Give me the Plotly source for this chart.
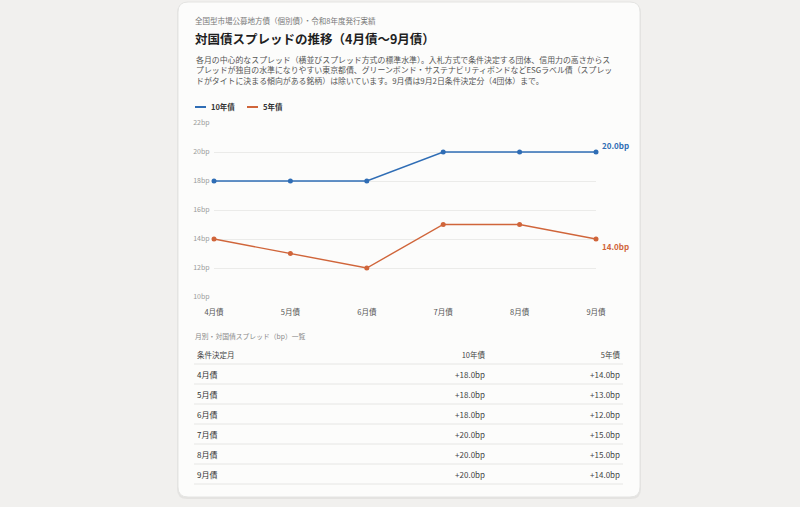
import plotly.graph_objects as go

# data
months = ["4月債", "5月債", "6月債", "7月債", "8月債", "9月債"]
spread_10y = [18, 18, 18, 20, 20, 20]
spread_5y = [14, 13, 12, 15, 15, 14]
series_names = ["10年債", "5年債"]
colors = ["#2f6db5", "#d0653a"]
y_ticks = [10, 12, 14, 16, 18, 20, 22]

W, H = 800, 507
FONT = "Noto Sans CJK JP"


def px(x):
    return x / W


def py(y):
    return 1 - y / H


def rounded_rect(x0, y0, x1, y1, r):
    a0, a1 = px(x0), px(x1)
    b0, b1 = py(y0), py(y1)
    rx, ry = r / W, r / H
    return (f"M{a0 + rx},{b0} L{a1 - rx},{b0} Q{a1},{b0} {a1},{b0 - ry} "
            f"L{a1},{b1 + ry} Q{a1},{b1} {a1 - rx},{b1} L{a0 + rx},{b1} "
            f"Q{a0},{b1} {a0},{b1 + ry} L{a0},{b0 - ry} Q{a0},{b0} {a0 + rx},{b0} Z")


fig = go.Figure()

for name, vals, col in zip(series_names, [spread_10y, spread_5y], colors):
    fig.add_trace(go.Scatter(
        x=months, y=vals, name=name, mode="lines+markers",
        line=dict(color=col, width=1.4),
        marker=dict(size=5, color=col),
        cliponaxis=False, showlegend=False,
    ))

# table below the chart
fmt = lambda v: f"+{v:.1f}bp"
fig.add_trace(go.Table(
    domain=dict(x=[px(189), px(628)], y=[py(486), py(344)]),
    columnwidth=[169, 135, 135],
    header=dict(
        values=["条件決定月", series_names[0], series_names[1]],
        align=["left", "right", "right"],
        font=dict(family=FONT, size=7.5, color="#444"),
        fill_color="rgba(0,0,0,0)",
        line_color="rgba(0,0,0,0)",
        height=20,
    ),
    cells=dict(
        values=[months, [fmt(v) for v in spread_10y], [fmt(v) for v in spread_5y]],
        align=["left", "right", "right"],
        font=dict(family=FONT, size=8, color=["#333", "#444", "#444"]),
        fill_color="rgba(0,0,0,0)",
        line_color="rgba(0,0,0,0)",
        height=20,
    ),
))

shapes = [
    # card shadow + card
    dict(type="path", path=rounded_rect(177, 3, 641, 499, 10), xref="paper", yref="paper",
         fillcolor="rgba(0,0,0,0.05)", line=dict(width=0), layer="below"),
    dict(type="path", path=rounded_rect(178, 2, 640, 497, 10), xref="paper", yref="paper",
         fillcolor="#fcfcfb", line=dict(color="#e4e4e2", width=1), layer="below"),
]
# table row separators
for i in range(len(months) + 1):
    yy = 364 + 20 * i
    shapes.append(dict(type="line", xref="paper", yref="paper",
                       x0=px(194), x1=px(623), y0=py(yy), y1=py(yy),
                       line=dict(color="#e6e6e4", width=1), layer="below"))
# legend swatches
for i, col in enumerate(colors):
    x0 = 195 + 52 * i
    shapes.append(dict(type="line", xref="paper", yref="paper",
                       x0=px(x0), x1=px(x0 + 11), y0=py(107), y1=py(107),
                       line=dict(color=col, width=2)))

annotations = [
    dict(text="全国型市場公募地方債（個別債）・令和8年度発行実績", x=px(193), y=py(21),
         font=dict(size=7.5, color="#777")),
    dict(text="<b>対国債スプレッドの推移（4月債〜9月債）</b>", x=px(193), y=py(39),
         font=dict(size=12.5, color="#1f1f1f")),
    dict(text="各月の中心的なスプレッド（横並びスプレッド方式の標準水準）。入札方式で条件決定する団体、信用力の高さからス<br>"
              "プレッドが独自の水準になりやすい東京都債、グリーンボンド・サステナビリティボンドなどESGラベル債（スプレッ<br>"
              "ドがタイトに決まる傾向がある銘柄）は除いています。9月債は9月2日条件決定分（4団体）まで。",
         x=px(194), y=py(70.5), font=dict(size=7.9, color="#555"), align="left"),
    dict(text="月別・対国債スプレッド（bp）一覧", x=px(193), y=py(336),
         font=dict(size=6.8, color="#888")),
]
for i, (name, col) in enumerate(zip(series_names, colors)):
    annotations.append(dict(text=f"<b>{name}</b>", x=px(209 + 52 * i), y=py(107),
                            font=dict(size=7.5, color="#333")))
for a in annotations:
    a.update(xref="paper", yref="paper", xanchor="left", yanchor="middle", showarrow=False)
    a["font"]["family"] = FONT

# end-of-line value labels
for vals, col, shift in zip([spread_10y, spread_5y], colors, [7, -7]):
    annotations.append(dict(text=f"<b>{vals[-1]:.1f}bp</b>", x=months[-1], y=vals[-1],
                            xref="x", yref="y", xanchor="left", yanchor="middle",
                            xshift=4, yshift=shift, showarrow=False,
                            font=dict(family=FONT, size=8, color=col)))

fig.update_layout(
    width=W, height=H,
    margin=dict(l=0, r=0, t=0, b=0, pad=0, autoexpand=False),
    paper_bgcolor="#f1f0ee",
    plot_bgcolor="rgba(0,0,0,0)",
    font=dict(family=FONT),
    showlegend=False,
    shapes=shapes,
    annotations=annotations,
    xaxis=dict(domain=[px(214), px(596)], range=[0, 5], type="category",
               showgrid=False, zeroline=False, showline=False,
               ticks="outside", ticklen=8, tickcolor="rgba(0,0,0,0)",
               automargin=False, tickfont=dict(size=7.5, color="#555")),
    yaxis=dict(domain=[py(297), py(123)], range=[10, 22], tickvals=y_ticks,
               ticktext=[f"{v}bp" for v in y_ticks],
               showgrid=True, gridcolor="#ebebe9",
               zeroline=False, showline=False,
               ticks="outside", ticklen=2, tickcolor="rgba(0,0,0,0)", automargin=False,
               tickfont=dict(size=7, color="#9a9a9a")),
)

fig.write_html("out.html", config={"displayModeBar": False},
               post_script="document.body.style.margin='0px';")
